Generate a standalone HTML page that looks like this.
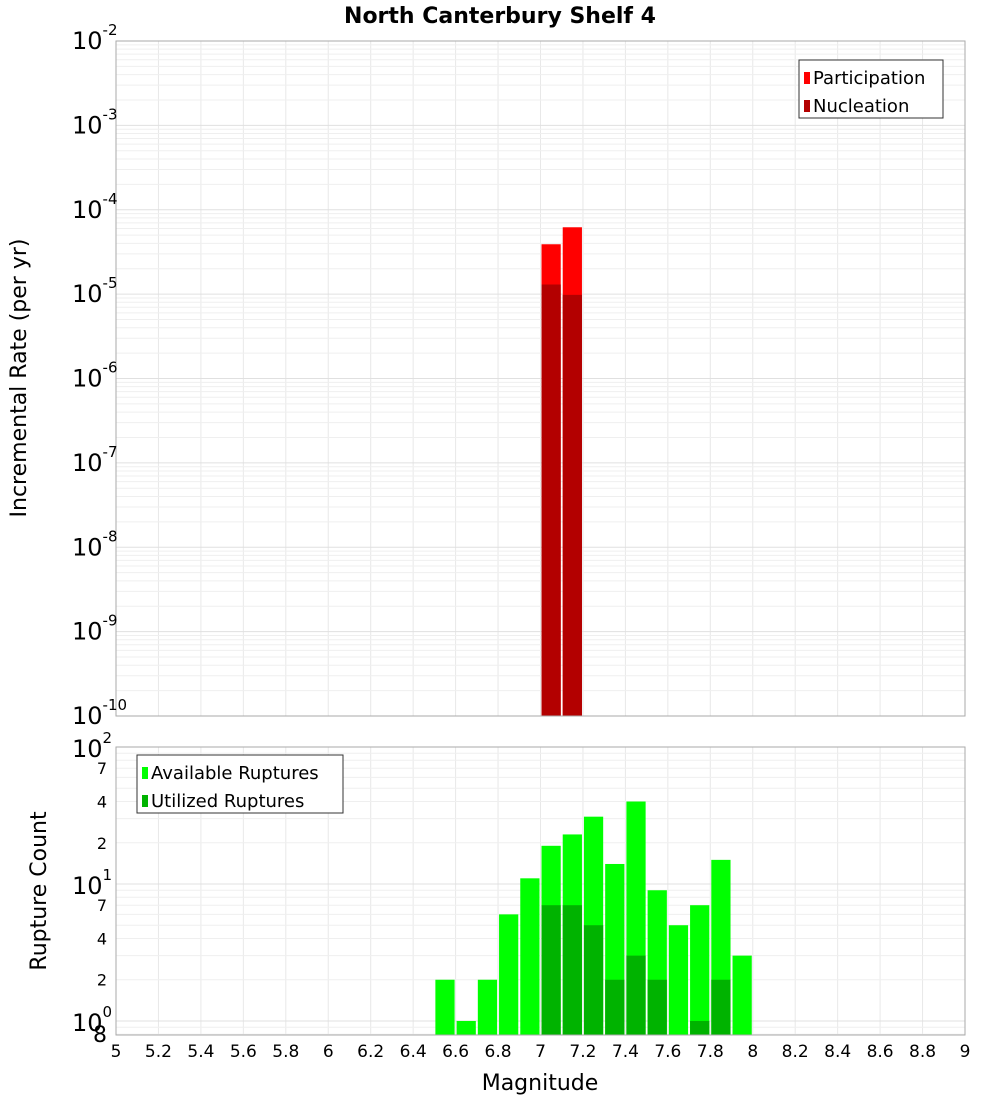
<!DOCTYPE html>
<html><head><meta charset="utf-8"><style>
body{margin:0;background:#fff;font-family:"DejaVu Sans","Liberation Sans",sans-serif}
</style></head><body>
<svg id="c" width="1000" height="1100" xmlns="http://www.w3.org/2000/svg" font-family="DejaVu Sans, Liberation Sans, sans-serif">
<text x="500" y="23" text-anchor="middle" font-size="22" font-weight="bold">North Canterbury Shelf 4</text>
<text transform="translate(26,378) rotate(-90)" text-anchor="middle" font-size="22">Incremental Rate (per yr)</text>
<text transform="translate(46,891) rotate(-90)" text-anchor="middle" font-size="22">Rupture Count</text>
<text x="540" y="1090" text-anchor="middle" font-size="22">Magnitude</text>
<g id="topg"></g><g id="botg"></g>
</svg>
<script>
const binCenters=[7.05,7.15];
const participation=[3.9e-5,6.2e-5];
const nucleation=[1.3e-5,9.8e-6];
const availMags=[6.55,6.65,6.75,6.85,6.95,7.05,7.15,7.25,7.35,7.45,7.55,7.65,7.75,7.85,7.95];
const available=[2,1,2,6,11,19,23,31,14,40,9,5,7,15,3];
const utilMags=[7.05,7.15,7.25,7.35,7.45,7.55,7.75,7.85];
const utilized=[7,7,5,2,3,2,1,2];
const xTicks=[5,5.2,5.4,5.6,5.8,6,6.2,6.4,6.6,6.8,7,7.2,7.4,7.6,7.8,8,8.2,8.4,8.6,8.8,9];
const NS="http://www.w3.org/2000/svg";
const PL=116,PR=965;
const X=v=>PL+(v-5)/4*(PR-PL);
const T0=41,T1=716, yT=v=>T1-(Math.log10(v)+10)/8*(T1-T0);
const B0=747,B1=1035, lb=Math.log10(0.79), yB=v=>B1-(Math.log10(v)-lb)/(2-lb)*(B1-B0);
function el(p,t,a,txt){const e=document.createElementNS(NS,t);for(const k in a)e.setAttribute(k,a[k]);if(txt!==undefined)e.textContent=txt;p.appendChild(e);return e;}
const gTop=document.getElementById('topg'),gBot=document.getElementById('botg');
xTicks.forEach(t=>{[[gTop,T0,T1],[gBot,B0,B1]].forEach(([g,a,b])=>{const l=el(g,'line',{x1:X(t),x2:X(t),y1:a,y2:b,stroke:'#e8e8e8'});});});
for(let d=-10;d<-2;d++)for(let m=1;m<10;m++){const y=yT(m*Math.pow(10,d));const l=el(gTop,'line',{x1:PL,x2:PR,y1:y,y2:y,stroke:m==1?'#e0e0e0':'#efefef'});}
for(let d=-1;d<2;d++)for(let m=1;m<10;m++){const v=m*Math.pow(10,d);if(v<0.79)continue;const y=yB(v);const l=el(gBot,'line',{x1:PL,x2:PR,y1:y,y2:y,stroke:m==1?'#e0e0e0':'#efefef'});}
const bw=(X(5.1)-X(5))-2;
binCenters.forEach((c,i)=>{const x=X(c)-bw/2;
 let r=el(gTop,'rect',{x:x,y:yT(participation[i]),width:bw,height:T1-yT(participation[i]),fill:'#ff0000'});
 r=el(gTop,'rect',{x:x,y:yT(nucleation[i]),width:bw,height:T1-yT(nucleation[i]),fill:'#b30000'});});
availMags.forEach((c,i)=>{const r=el(gBot,'rect',{x:X(c)-bw/2,y:yB(available[i]),width:bw,height:B1-yB(available[i]),fill:'#00ff00'});});
utilMags.forEach((c,i)=>{const r=el(gBot,'rect',{x:X(c)-bw/2,y:yB(utilized[i]),width:bw,height:B1-yB(utilized[i]),fill:'#00b300'});});
[[gTop,T0,T1],[gBot,B0,B1]].forEach(([g,a,b])=>{const f=el(g,'rect',{x:PL,y:a,width:PR-PL,height:b-a,fill:'none',stroke:'#aaa'});});
for(let d=-10;d<=-2;d++){const y=yT(Math.pow(10,d));const t=el(gTop,'text',{x:72,y:y+8,'font-size':24},'10');el(t,'tspan',{dy:-14,'font-size':15},String(d));}
[[100,'10','2'],[10,'10','1'],[1,'10','0']].forEach(([v,b,s])=>{const y=yB(v);const t=el(gBot,'text',{x:72,y:y+10,'font-size':24},b);el(t,'tspan',{dy:-14,'font-size':15},s);});
[2,4,7,20,40,70].forEach(v=>{const t=el(gBot,'text',{x:107,y:yB(v)+6,'font-size':16,'text-anchor':'end'},String(v<10?v:v/10));});
{const t=el(gBot,'text',{x:107,y:1042,'font-size':22,'text-anchor':'end'},'8');}
xTicks.forEach(t=>{const e=el(gBot,'text',{x:X(t),y:1057,'font-size':17,'text-anchor':'middle'},String(t));});
function legend(g,x,y,w,items,name){const gg=el(g,'g',{});
 el(gg,'rect',{x:x,y:y,width:w,height:58,fill:'#fff',stroke:'#333'});
 items.forEach(([c,lab],i)=>{el(gg,'rect',{x:x+5,y:y+12+i*28,width:6,height:12,fill:c});el(gg,'text',{x:x+14,y:y+24+i*28,'font-size':18},lab);});}
legend(gTop,799,60,144,[['#ff0000','Participation'],['#b30000','Nucleation']],'legend-top');
legend(gBot,137,755,206,[['#00ff00','Available Ruptures'],['#00b300','Utilized Ruptures']],'legend-bottom');
</script>
</body></html>
